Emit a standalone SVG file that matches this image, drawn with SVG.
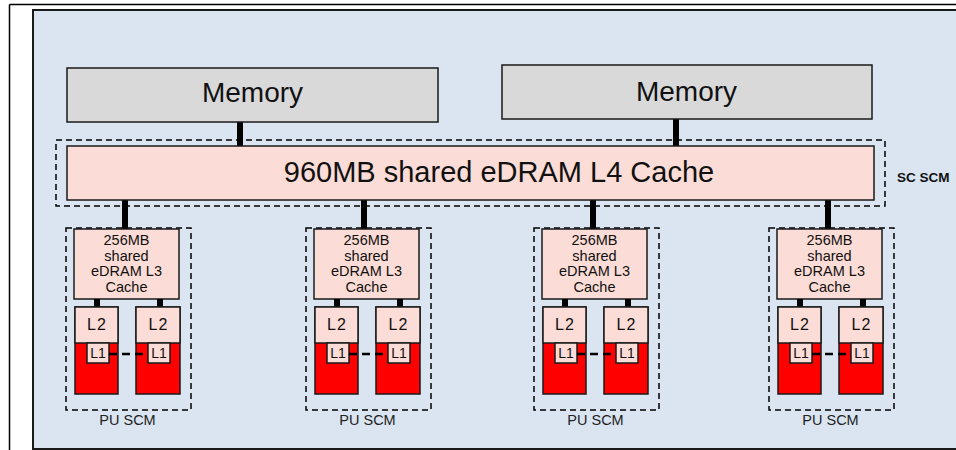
<svg xmlns="http://www.w3.org/2000/svg" width="956" height="450" viewBox="0 0 956 450">
<style>
  .frame{fill:none;stroke:#000;stroke-width:1.5}
  .panel{fill:#dae5f1;stroke:#1a1a1a;stroke-width:2}
  .mem{fill:#d9d9d9;stroke:#1a1a1a;stroke-width:1.5}
  .pink{fill:#fcdcd6;stroke:#1a1a1a;stroke-width:1.5}
  .red{fill:#ff0000;stroke:#1a1a1a;stroke-width:1.5}
  .dash{fill:none;stroke:#000;stroke-width:1.5;stroke-dasharray:6,4}
  .bus{stroke:#000;stroke-width:6}
  .dl{stroke:#000;stroke-width:2.5;stroke-dasharray:8,5}
  text{font-family:"Liberation Sans",Arial,sans-serif;fill:#111;text-anchor:middle}
  .big{font-size:28px}
  .l4{font-size:29px}
  .s14{font-size:14.5px}
  .s16{font-size:16px;letter-spacing:1px}
  .s12{font-size:14px}
  .lab{font-size:14.5px;fill:#222}
  .bold{font-size:13.5px;font-weight:bold;text-anchor:start}
</style>
<defs>
  <g id="pu">
    <rect class="dash" x="0" y="0" width="125" height="182"/>
    <rect class="pink" x="8" y="1" width="105" height="70"/>
    <text class="s14" x="60.5" y="17">256MB</text>
    <text class="s14" x="60.5" y="32.5">shared</text>
    <text class="s14" x="60.5" y="48">eDRAM L3</text>
    <text class="s14" x="60.5" y="63.5">Cache</text>
    <line class="bus" x1="31" y1="71" x2="31" y2="79"/>
    <line class="bus" x1="94" y1="71" x2="94" y2="79"/>
    <rect class="red" x="9" y="79" width="43" height="87"/>
    <rect class="pink" x="9" y="79" width="43" height="36"/>
    <text class="s16" x="31" y="102">L2</text>
    <rect class="pink" x="21" y="115" width="22" height="20"/>
    <text class="s12" x="32" y="130">L1</text>
    <rect class="red" x="70" y="79" width="44" height="87"/>
    <rect class="pink" x="70" y="79" width="44" height="36"/>
    <text class="s16" x="92.5" y="102">L2</text>
    <rect class="pink" x="82" y="115" width="22" height="20"/>
    <text class="s12" x="93" y="130">L1</text>
    <line class="dl" x1="43" y1="126" x2="82" y2="126"/>
    <text class="lab" x="61.5" y="197">PU SCM</text>
  </g>
</defs>
<line class="frame" x1="9.5" y1="4.5" x2="956" y2="4.5"/>
<line class="frame" x1="9.5" y1="4.5" x2="9.5" y2="450"/>
<rect class="panel" x="33" y="10" width="930" height="439"/>

<g id="connectors">
  <line class="bus" x1="240" y1="122" x2="240" y2="146"/>
  <line class="bus" x1="676" y1="119" x2="676" y2="146"/>
  <line class="bus" x1="125" y1="200" x2="125" y2="229"/>
  <line class="bus" x1="364" y1="200" x2="364" y2="229"/>
  <line class="bus" x1="593" y1="200" x2="593" y2="229"/>
  <line class="bus" x1="828" y1="200" x2="828" y2="229"/>
</g>

<g id="memory1">
  <rect class="mem" x="67" y="68" width="371" height="54"/>
  <text class="big" x="252.5" y="102">Memory</text>
</g>
<g id="memory2">
  <rect class="mem" x="502" y="65" width="370" height="54"/>
  <text class="big" x="686.5" y="101">Memory</text>
</g>
<g id="sc-scm">
  <rect class="dash" x="56" y="140" width="829" height="66"/>
  <rect class="pink" x="67" y="146" width="807" height="54"/>
  <text class="l4" x="499" y="182">960MB shared eDRAM L4 Cache</text>
  <text class="bold" x="897" y="182">SC SCM</text>
</g>
<g id="pu1" transform="translate(66,228)"><use href="#pu"/></g>
<g id="pu2" transform="translate(306,228)"><use href="#pu"/></g>
<g id="pu3" transform="translate(534,228)"><use href="#pu"/></g>
<g id="pu4" transform="translate(769,228)"><use href="#pu"/></g>
</svg>
